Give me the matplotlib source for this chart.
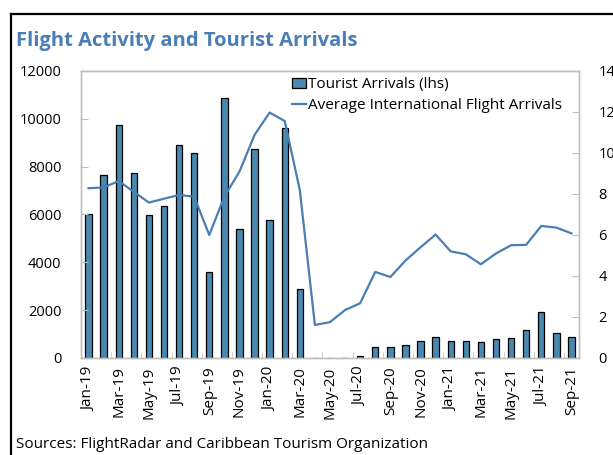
import matplotlib.pyplot as plt
import matplotlib.lines as mlines
import numpy as np

plt.rcParams['font.family'] = ['Open Sans', 'DejaVu Sans']

months = ['Jan-19', 'Feb-19', 'Mar-19', 'Apr-19', 'May-19', 'Jun-19', 'Jul-19', 'Aug-19',
          'Sep-19', 'Oct-19', 'Nov-19', 'Dec-19', 'Jan-20', 'Feb-20', 'Mar-20', 'Apr-20',
          'May-20', 'Jun-20', 'Jul-20', 'Aug-20', 'Sep-20', 'Oct-20', 'Nov-20', 'Dec-20',
          'Jan-21', 'Feb-21', 'Mar-21', 'Apr-21', 'May-21', 'Jun-21', 'Jul-21', 'Aug-21',
          'Sep-21']

# tourist arrivals (left axis)
tourists = [6000, 7660, 9730, 7720, 5970, 6370, 8890, 8560,
            3600, 10870, 5390, 8750, 5760, 9600, 2870, 0,
            0, 15, 70, 470, 450, 560, 720, 890,
            700, 700, 660, 790, 840, 1170, 1910, 1050,
            890]

# average international flight arrivals (right axis)
flights = [8.28, 8.32, 8.63, 8.11, 7.58, 7.77, 7.95, 7.87,
           6.0, 7.87, 9.09, 10.88, 11.97, 11.56, 8.2, 1.61,
           1.75, 2.34, 2.67, 4.2, 3.95, 4.75, 5.4, 6.02,
           5.2, 5.06, 4.57, 5.1, 5.5, 5.52, 6.44, 6.36,
           6.08]

bar_col = '#4A89AF'
line_col = '#4A7EB5'
grey = '#BFBFBF'

fig = plt.figure(figsize=(6.13, 4.55), dpi=100)
ax = fig.add_axes([0.1321, 0.2132, 0.8124, 0.6308])
ax2 = ax.twinx()

x = np.arange(len(months))
b = ax.bar(x, tourists, width=0.42, color=bar_col, edgecolor='black', linewidth=0.9,
           label='Tourist Arrivals (lhs)')
l, = ax2.plot(x, flights, color=line_col, lw=1.6,
              label='Average International Flight Arrivals')

ax.set_xlim(-0.5, len(months) - 0.5)
ax.set_ylim(0, 12000)
ax2.set_ylim(0, 14)
ax.set_yticks(np.arange(0, 12001, 2000))
ax2.set_yticks(np.arange(0, 15, 2))

ax.set_xticks(x[::2])
ax.set_xticklabels(months[::2], rotation=90)
ax.set_xticks(np.arange(1.5, len(months) - 1, 2), minor=True)

for a in (ax, ax2):
    for s in a.spines.values():
        s.set_color(grey)
        s.set_linewidth(1.0)

ax.tick_params(axis='x', which='major', length=0, pad=6, labelsize=11)
ax.tick_params(axis='x', which='minor', direction='in', length=4, color=grey)
ax.tick_params(axis='y', direction='in', length=5, color=grey, labelsize=10.5, pad=14)
ax2.tick_params(axis='y', direction='in', length=5, color=grey, labelsize=10.5, pad=14)

leg = ax.legend([b, l], [b.get_label(), l.get_label()], loc='upper left',
                bbox_to_anchor=(0.405, 1.01), frameon=False, fontsize=11,
                handlelength=0.9, handletextpad=0.15, labelspacing=0.4,
                borderaxespad=0.2)

fig.text(0.026, 0.898, 'Flight Activity and Tourist Arrivals', color='#4A7EB5',
         fontsize=14.5, fontweight='bold', ha='left', va='baseline')
fig.text(0.026, 0.015, 'Sources: FlightRadar and Caribbean Tourism Organization',
         fontsize=11, ha='left', va='baseline')

# outer frame (left and top edges)
fig.add_artist(mlines.Line2D([0.0175, 0.0175], [0.0, 0.969], color='black', lw=1.6,
                             transform=fig.transFigure))
fig.add_artist(mlines.Line2D([0.0175, 1.0], [0.969, 0.969], color='black', lw=1.6,
                             transform=fig.transFigure))

fig.savefig('out.png', dpi=100)
